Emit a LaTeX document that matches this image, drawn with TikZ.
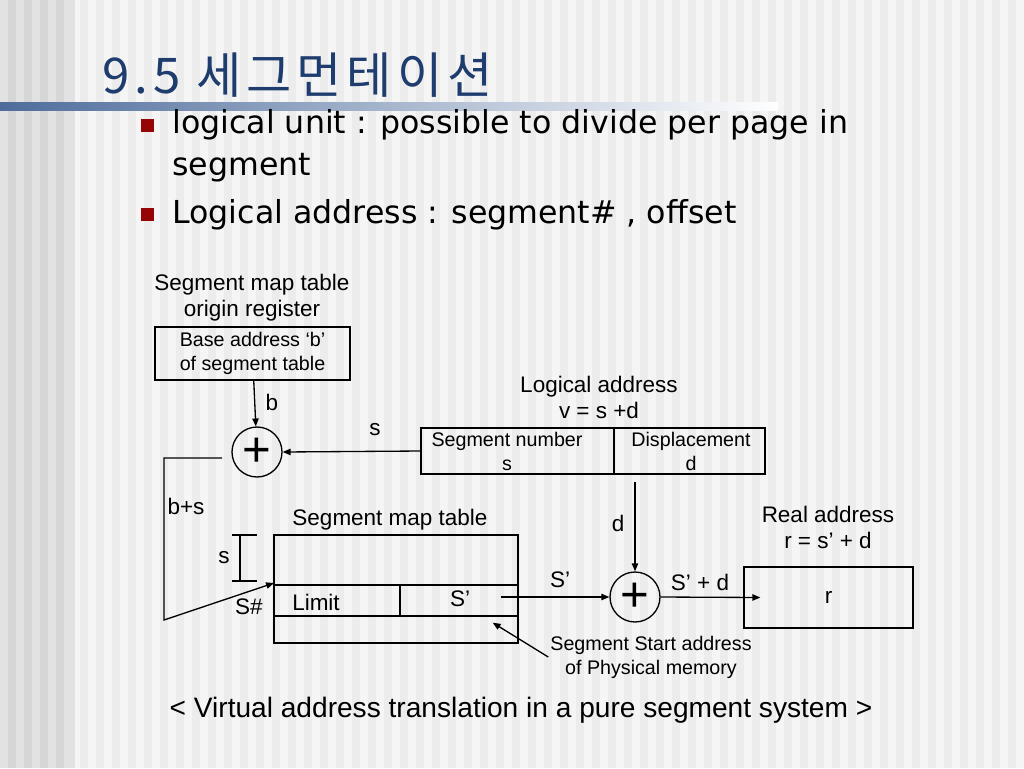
\documentclass[tikz,border=0pt]{standalone}
\usepackage{fontspec}
\setmainfont{Liberation Sans}
\newfontfamily\titlefont[LetterSpace=10]{Noto Sans CJK KR}
\newfontfamily\bulletfont{DejaVu Sans}
\usetikzlibrary{arrows.meta}

\definecolor{titleBlue}{RGB}{30,60,110}
\definecolor{barBlue}{RGB}{78,108,155}
\definecolor{bulletRed}{RGB}{150,5,5}
\definecolor{bgLeft}{RGB}{226,226,226}
\definecolor{stripeLeft}{RGB}{214,214,214}
\definecolor{bgMain}{RGB}{245,245,245}
\definecolor{stripeMain}{RGB}{236,236,236}

\begin{document}
\begin{tikzpicture}[x=0.02cm,y=-0.02cm]
	\tikzstyle{txt} = [font=\fontsize{12.8}{14.8}\selectfont, align=center, inner sep=1pt]
	\tikzstyle{small} = [font=\fontsize{11.2}{13.7}\selectfont, align=center, inner sep=1pt]
	\tikzstyle{item} = [anchor=base west, inner sep=0pt, font=\bulletfont\fontsize{18}{20}\selectfont]
	\tikzstyle{bullet} = [fill=bulletRed, minimum size=0.26cm, inner sep=0pt]
	\tikzstyle{box} = [draw, rectangle, line width=0.75pt, inner sep=0pt]
	\tikzstyle{adder} = [draw, circle, minimum size=1cm, inner sep=0pt, line width=0.75pt, font=\fontsize{28}{28}\selectfont]
	\tikzstyle{line} = [line width=0.75pt]
	\tikzstyle{arrow} = [line width=0.75pt, -{Triangle[length=4.5pt,width=3.6pt]}]
	% background
	\useasboundingbox (0,0) rectangle (1024,768);
	\fill[bgMain] (0,0) rectangle (1024,768);
	\fill[bgLeft] (0,0) rectangle (75,768);
	\foreach \x in {80,96,...,1008}
		\fill[stripeMain] (\x,0) rectangle (\x+8,768);
	\foreach \x in {8,24,...,56}
		\fill[stripeLeft] (\x,0) rectangle (\x+8,768);
	% title
	\node (title) [anchor=base west, inner sep=0pt, text=titleBlue, font=\titlefont\fontsize{28}{30}\selectfont] at (102,93) {9.5 세그먼테이션};
	\shade[left color=barBlue, right color=white] (0,102) rectangle (778,110);
	% bullets
	\node (bulletA) [bullet] at (147,125) {};
	\node (itemA) [item] at (172,133) {logical unit : possible to divide per page in};
	\node (itemA2) [item] at (172,175) {segment};
	\node (bulletB) [bullet] at (147,214) {};
	\node (itemB) [item] at (172,223) {Logical address : segment\# , offset};
	% segment map table origin register
	\node (originLabel) [txt] at (252,298) {Segment map table\\origin register};
	\node (baseBox) [box, small, minimum width=3.9cm, minimum height=1.06cm] at (252.5,353.5) {Base address ‘b’\\of segment table};
	\node (addB) [adder] at (257,452) {+};
	\node (bLabel) [txt] at (272,402) {b};
	% logical address
	\node (logLabel) [txt] at (599,397) {Logical address\\v = s +d};
	\node (logBox) [box, minimum width=6.88cm, minimum height=0.92cm] at (593,451) {};
	\draw [line] (614,428) -- (614,474);
	\node (segNum) [small] at (507,451) {Segment number\\s};
	\node (disp) [small] at (691,451) {Displacement\\d};
	\node (sLabel) [txt] at (375,430) {s};
	% segment map table
	\node (mapLabel) [txt] at (390,520) {Segment map table};
	\node (mapTable) [box, minimum width=4.88cm, minimum height=2.16cm] at (396,589) {};
	\draw [line] (274,585) -- (518,585);
	\draw [line] (274,616) -- (518,616);
	\draw [line] (400,585) -- (400,616);
	\node (limit) [txt] at (316,602) {Limit};
	\node (sPrime) [txt] at (460,599) {S’};
	\draw [line] (232,535) -- (257,535);
	\draw [line] (232,581) -- (257,581);
	\draw [line] (240,535) -- (240,581);
	\node (sHeight) [txt] at (224,558) {s};
	\node (sNum) [txt] at (249,607) {S\#};
	\node (bsLabel) [txt] at (186,506) {b+s};
	% adder for real address
	\node (addD) [adder] at (635,597) {+};
	\node (dLabel) [txt] at (618,523) {d};
	\node (sOutLabel) [txt] at (560,580) {S’};
	\node (sumLabel) [txt] at (700,582) {S’ + d};
	\node (realLabel) [txt] at (828,527) {Real address\\r = s’ + d};
	\node (rBox) [box, txt, minimum width=3.38cm, minimum height=1.22cm] at (828.5,597.5) {r};
	\node (startAddr) [small] at (651,657) {Segment Start address\\of Physical memory};
	% caption
	\node (caption) [font=\fontsize{16}{18}\selectfont] at (521,710) {< Virtual address translation in a pure segment system >};
	% connectors
	\coordinate (bsOut) at (222,458);
	\coordinate (bsCorner) at (164,458);
	\coordinate (bsLow) at (164,620);
	\coordinate (rowIn) at (274,583);
	\coordinate (sOut) at (501,597);
	\coordinate (dStart) at (635,482);
	\draw [arrow] (baseBox) -- (addB);
	\draw [arrow] (logBox.west) -- (addB.east);
	\draw [arrow] (bsOut) -- (bsCorner) -- (bsLow) -- (rowIn);
	\draw [arrow] (dStart) -- (addD.north);
	\draw [arrow] (sOut) -- (addD.west);
	\draw [arrow] (addD.east) -- ([xshift=0.34cm]rBox.west);
	\draw [arrow] (startAddr.west) -- ([xshift=-0.52cm, yshift=0.42cm]mapTable.south east);
\end{tikzpicture}
\end{document}
